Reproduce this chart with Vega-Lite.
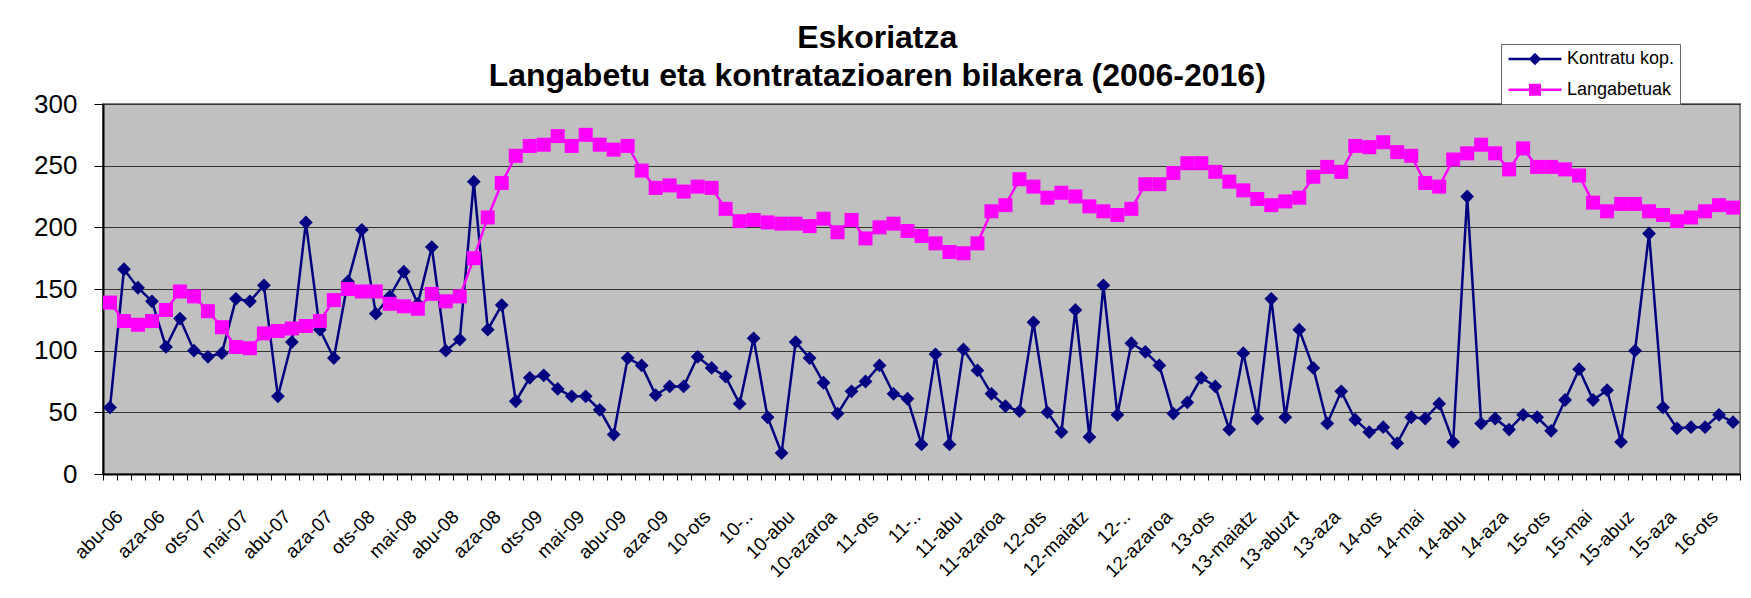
{
"$schema": "https://vega.github.io/schema/vega-lite/v6.json",
"width": 1637,
"height": 370,
"padding": {"left": 5, "top": 21, "right": 5, "bottom": 5},
"background": "white",
"title": {"text": ["Eskoriatza", "Langabetu eta kontratazioaren bilakera (2006-2016)"], "fontSize": 32, "font": "Liberation Sans", "fontWeight": "bold", "color": "black", "lineHeight": 38, "anchor": "middle", "frame": "bounds", "offset": -49},
"data": {"values": [
{"m":"abu-06","k":54,"l":139},{"m":"ira-06","k":166,"l":124},{"m":"urr-06","k":151,"l":121},{"m":"aza-06","k":140,"l":124},{"m":"abe-06","k":103,"l":133},
{"m":"urt-07","k":126,"l":148},{"m":"ots-07","k":100,"l":144},{"m":"mar-07","k":95,"l":132},{"m":"api-07","k":98,"l":119},{"m":"mai-07","k":142,"l":103},
{"m":"eka-07","k":140,"l":102},{"m":"uzt-07","k":153,"l":114},{"m":"abu-07","k":63,"l":116},{"m":"ira-07","k":107,"l":118},{"m":"urr-07","k":204,"l":120},
{"m":"aza-07","k":117,"l":124},{"m":"abe-07","k":94,"l":141},{"m":"urt-08","k":156,"l":150},{"m":"ots-08","k":198,"l":148},{"m":"mar-08","k":130,"l":148},
{"m":"api-08","k":144,"l":138},{"m":"mai-08","k":164,"l":136},{"m":"eka-08","k":138,"l":134},{"m":"uzt-08","k":184,"l":146},{"m":"abu-08","k":100,"l":140},
{"m":"ira-08","k":109,"l":144},{"m":"urr-08","k":237,"l":175},{"m":"aza-08","k":117,"l":208},{"m":"abe-08","k":137,"l":236},{"m":"urt-09","k":59,"l":258},
{"m":"ots-09","k":78,"l":266},{"m":"mar-09","k":80,"l":267},{"m":"api-09","k":69,"l":274},{"m":"mai-09","k":63,"l":266},{"m":"eka-09","k":63,"l":275},
{"m":"uzt-09","k":52,"l":267},{"m":"abu-09","k":32,"l":263},{"m":"ira-09","k":94,"l":266},{"m":"urr-09","k":88,"l":246},{"m":"aza-09","k":64,"l":232},
{"m":"abe-09","k":71,"l":234},{"m":"10-urt","k":71,"l":229},{"m":"10-ots","k":95,"l":233},{"m":"10-mar","k":86,"l":232},{"m":"10-api","k":79,"l":215},
{"m":"10-..","k":57,"l":205},{"m":"10-eka","k":110,"l":206},{"m":"10-uzt","k":46,"l":204},{"m":"10-abu","k":17,"l":203},{"m":"10-ira","k":107,"l":203},
{"m":"10-urr","k":94,"l":201},{"m":"10-azaroa","k":74,"l":207},{"m":"10-abe","k":49,"l":196},{"m":"11-urt","k":67,"l":206},{"m":"11-ots","k":75,"l":191},
{"m":"11-mar","k":88,"l":200},{"m":"11-api","k":65,"l":203},{"m":"11-..","k":61,"l":197},{"m":"11-eka","k":24,"l":193},{"m":"11-uzt","k":97,"l":187},
{"m":"11-abu","k":24,"l":180},{"m":"11-ira","k":101,"l":179},{"m":"11-urr","k":84,"l":187},{"m":"11-azaroa","k":65,"l":213},{"m":"11-abe","k":55,"l":218},
{"m":"12-urt","k":51,"l":239},{"m":"12-ots","k":123,"l":233},{"m":"12-mar","k":50,"l":224},{"m":"12-api","k":34,"l":228},{"m":"12-maiatz","k":133,"l":225},
{"m":"12-eka","k":30,"l":217},{"m":"12-uzt","k":153,"l":213},{"m":"12-..","k":48,"l":210},{"m":"12-ira","k":106,"l":215},{"m":"12-urr","k":99,"l":235},
{"m":"12-azaroa","k":88,"l":235},{"m":"12-abe","k":49,"l":244},{"m":"13-urt","k":58,"l":252},{"m":"13-ots","k":78,"l":252},{"m":"13-mar","k":71,"l":245},
{"m":"13-api","k":36,"l":237},{"m":"13-maiatz","k":98,"l":230},{"m":"13-eka","k":45,"l":223},{"m":"13-uzt","k":142,"l":218},{"m":"13-abuzt","k":46,"l":221},
{"m":"13-ira","k":117,"l":224},{"m":"13-urr","k":86,"l":241},{"m":"13-aza","k":41,"l":249},{"m":"13-abe","k":67,"l":245},{"m":"14-urt","k":44,"l":266},
{"m":"14-ots","k":34,"l":265},{"m":"14-mar","k":38,"l":269},{"m":"14-api","k":25,"l":261},{"m":"14-mai","k":46,"l":258},{"m":"14-eka","k":45,"l":236},
{"m":"14-uzt","k":57,"l":233},{"m":"14-abu","k":26,"l":255},{"m":"14-ira","k":225,"l":260},{"m":"14-urr","k":41,"l":267},{"m":"14-aza","k":45,"l":260},
{"m":"14-abe","k":36,"l":247},{"m":"15-urt","k":48,"l":264},{"m":"15-ots","k":46,"l":249},{"m":"15-mar","k":35,"l":249},{"m":"15-api","k":60,"l":247},
{"m":"15-mai","k":85,"l":242},{"m":"15-eka","k":60,"l":220},{"m":"15-uzt","k":68,"l":213},{"m":"15-abuz","k":26,"l":219},{"m":"15-ira","k":100,"l":219},
{"m":"15-urr","k":195,"l":213},{"m":"15-aza","k":54,"l":210},{"m":"15-abe","k":37,"l":205},{"m":"16-urt","k":38,"l":208},{"m":"16-ots","k":38,"l":213},
{"m":"16-mar","k":48,"l":218},{"m":"16-api","k":42,"l":216}
]},
"transform": [{"fold": ["k", "l"], "as": ["s", "v"]}],
"encoding": {
  "x": {"field": "m", "type": "ordinal", "sort": null,
        "scale": {"type": "band", "paddingInner": 0, "paddingOuter": 0},
        "axis": {"title": null, "labelAngle": -45, "labelFontSize": 19, "labelFont": "Liberation Sans", "labelColor": "black",
                 "labelExpr": "indexof(domain('x'), datum.value) % 3 == 0 ? datum.value : ''",
                 "labelOverlap": false, "tickBand": "extent", "tickSize": 6, "tickColor": "black", "tickWidth": 1,
                 "domainColor": "black", "domainWidth": 2, "labelPadding": 27, "labelOffset": 3, "grid": false}},
  "y": {"field": "v", "type": "quantitative",
        "scale": {"domain": [0, 300], "nice": false},
        "axis": {"title": null, "values": [0, 50, 100, 150, 200, 250, 300], "grid": true, "gridColor": "#333333", "gridWidth": 1.2,
                 "labelFontSize": 26, "labelFont": "Liberation Sans", "labelColor": "black", "tickSize": 9, "tickColor": "black",
                 "domainColor": "black", "domainWidth": 2, "labelPadding": 17, "minExtent": 98, "maxExtent": 98}}
},
"layer": [
  {"transform": [{"filter": "datum.s == 'k'"}], "mark": {"type": "line", "color": "#000080", "strokeWidth": 2.5}},
  {"transform": [{"filter": "datum.s == 'k'"}], "mark": {"type": "point", "shape": "diamond", "filled": true, "color": "#000080", "size": 190, "opacity": 1}},
  {"transform": [{"filter": "datum.s == 'l'"}], "mark": {"type": "line", "color": "#FF00FF", "strokeWidth": 2.5}},
  {"transform": [{"filter": "datum.s == 'l'"}], "mark": {"type": "point", "shape": "square", "filled": true, "color": "#FF00FF", "size": 196, "opacity": 1}},
  {"transform": [{"filter": "false"}],
   "mark": {"type": "point", "filled": true, "opacity": 1, "strokeWidth": 0},
   "encoding": {
     "color": {"field": "s", "type": "nominal", "scale": {"domain": ["k", "l"], "range": ["#000080", "#FF00FF"]},
               "legend": {"title": null, "orient": "none", "legendX": 1398, "legendY": -60, "direction": "vertical",
                          "fillColor": "white", "strokeColor": "#666666", "padding": 5, "labelFontSize": 18, "labelFont": "Liberation Sans",
                          "labelColor": "black", "symbolSize": 400, "symbolOffset": 19, "labelOffset": 22, "rowPadding": 11.7,
                          "symbolStrokeWidth": 0, "symbolOpacity": 1,
                          "labelExpr": "datum.value == 'k' ? 'Kontratu kop.' : 'Langabetuak'"}},
     "shape": {"field": "s", "type": "nominal",
               "scale": {"domain": ["k", "l"], "range": ["M-2.65,-0.13L2.65,-0.13L2.65,0.13L-2.65,0.13Z M0,-0.62L0.62,0L0,0.62L-0.62,0Z", "M-2.65,-0.13L2.65,-0.13L2.65,0.13L-2.65,0.13Z M-0.6,-0.6L0.6,-0.6L0.6,0.6L-0.6,0.6Z"]},
               "legend": {"title": null, "orient": "none", "legendX": 1398, "legendY": -60, "direction": "vertical",
                          "fillColor": "white", "strokeColor": "#666666", "padding": 5, "labelFontSize": 18, "labelFont": "Liberation Sans",
                          "labelColor": "black", "symbolSize": 400, "symbolOffset": 19, "labelOffset": 22, "rowPadding": 11.7,
                          "symbolStrokeWidth": 0, "symbolOpacity": 1,
                          "labelExpr": "datum.value == 'k' ? 'Kontratu kop.' : 'Langabetuak'"}}
   }}
],
"config": {"view": {"fill": "#C0C0C0", "stroke": "#808080", "strokeWidth": 2}, "font": "Liberation Sans"}
}
